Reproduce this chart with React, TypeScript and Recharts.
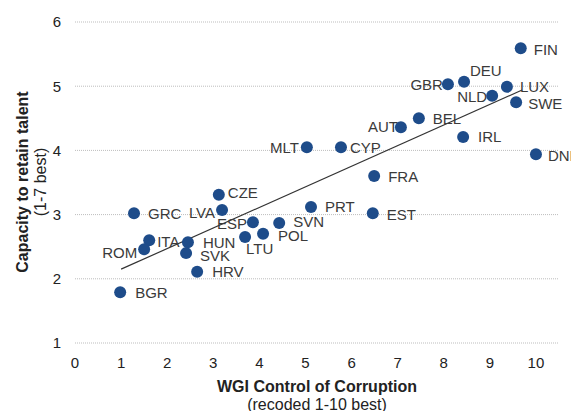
import { CartesianGrid, Scatter, ScatterChart, XAxis, YAxis } from 'recharts';

const countries = [
  'FIN', 'DEU', 'GBR', 'LUX', 'NLD', 'SWE', 'BEL', 'AUT', 'IRL', 'DNK',
  'CYP', 'MLT', 'FRA', 'PRT', 'EST', 'CZE', 'LVA', 'GRC', 'ESP', 'SVN',
  'POL', 'LTU', 'ITA', 'ROM', 'HUN', 'SVK', 'HRV', 'BGR',
];
// WGI control of corruption (x)
const corruption = [
  9.67, 8.44, 8.09, 9.37, 9.05, 9.57, 7.46, 7.07, 8.42, 10.0,
  5.77, 5.03, 6.49, 5.12, 6.46, 3.12, 3.19, 1.28, 3.86, 4.43,
  4.08, 3.69, 1.61, 1.5, 2.45, 2.41, 2.65, 0.98,
];
// capacity to retain talent (y)
const talent = [
  5.59, 5.07, 5.03, 4.99, 4.85, 4.75, 4.5, 4.36, 4.21, 3.94,
  4.05, 4.05, 3.6, 3.12, 3.02, 3.31, 3.07, 3.02, 2.88, 2.87,
  2.7, 2.65, 2.6, 2.46, 2.57, 2.4, 2.11, 1.79,
];
const trendX = [1.0, 9.7];
const trendY = [2.15, 4.94];
const xTicks = [0, 1, 2, 3, 4, 5, 6, 7, 8, 9, 10];
const yTicks = [1, 2, 3, 4, 5, 6];

const points = countries.map((name, i) => ({ name, x: corruption[i], y: talent[i] }));
const trend = trendX.map((x, i) => ({ x, y: trendY[i] }));

// label placement: anchor, dx, dy from the dot centre
const labelPos: Record<string, [string, number, number]> = {
  FIN: ['start', 13, 1],
  DEU: ['start', 6, -11],
  GBR: ['end', -5, 0],
  LUX: ['start', 13, 0],
  NLD: ['end', -5, 1],
  SWE: ['start', 12, 1],
  BEL: ['start', 14, 0],
  AUT: ['end', -3, -1],
  IRL: ['start', 15, 0],
  DNK: ['start', 12, 1],
  CYP: ['start', 9, 0],
  MLT: ['end', -8, 0],
  FRA: ['start', 14, 0],
  PRT: ['start', 14, 0],
  EST: ['start', 14, 1],
  CZE: ['start', 9, -2],
  LVA: ['end', -7, 2],
  GRC: ['start', 14, 0],
  ESP: ['end', -6, 1],
  SVN: ['start', 14, -1],
  POL: ['start', 15, 2],
  LTU: ['start', 1, 11],
  ITA: ['start', 8, 1],
  ROM: ['end', -7, 3],
  HUN: ['start', 15, 0],
  SVK: ['start', 14, 2],
  HRV: ['start', 15, 0],
  BGR: ['start', 15, 0],
};

const font = 'Liberation Sans, Arial, sans-serif';
const dotColor = '#1e4c8a';

const CountryDot = (props: any) => {
  const { cx, cy, payload } = props;
  const [anchor, dx, dy] = labelPos[payload.name] || ['start', 12, 0];
  return (
    <g>
      <circle cx={cx} cy={cy} r={6} fill={dotColor} />
      <text
        x={cx + dx}
        y={cy + dy}
        textAnchor={anchor as any}
        dominantBaseline="central"
        fontSize={15}
        fontFamily={font}
        fill="#3a3a3a"
      >
        {payload.name}
      </text>
    </g>
  );
};

export default function App() {
  return (
    <div style={{ position: 'absolute', left: 0, top: 0, background: '#fff' }}>
      <ScatterChart
        width={571}
        height={411}
        margin={{ top: 22, right: 12, left: 0, bottom: 0 }}
      >
        <CartesianGrid
          vertical={false}
          stroke="#bdbdbd"
          strokeDasharray="1 1"
        />
        <XAxis
          type="number"
          dataKey="x"
          domain={[0, 10.5]}
          ticks={xTicks}
          height={68}
          axisLine={false}
          tickLine={false}
          tickSize={0}
          tickMargin={14}
          tick={{ fontSize: 15, fill: '#222', fontFamily: font }}
        />
        <YAxis
          type="number"
          dataKey="y"
          domain={[1, 6]}
          ticks={yTicks}
          width={75}
          axisLine={false}
          tickLine={false}
          tickSize={0}
          tickMargin={14}
          tick={{ fontSize: 15, fill: '#222', fontFamily: font }}
        />
        <Scatter
          data={trend}
          line={{ stroke: '#333', strokeWidth: 1.2 }}
          shape={() => <g />}
          isAnimationActive={false}
        />
        <Scatter data={points} shape={CountryDot} isAnimationActive={false} />
        <text
          x={317}
          y={386}
          textAnchor="middle"
          dominantBaseline="central"
          fontSize={16}
          fontWeight="bold"
          fontFamily={font}
          fill="#222"
        >
          WGI Control of Corruption
        </text>
        <text
          x={317}
          y={404}
          textAnchor="middle"
          dominantBaseline="central"
          fontSize={16}
          fontFamily={font}
          fill="#222"
        >
          (recoded 1-10 best)
        </text>
        <text
          transform="translate(22,182) rotate(-90)"
          textAnchor="middle"
          dominantBaseline="central"
          fontSize={16}
          fontWeight="bold"
          fontFamily={font}
          fill="#222"
        >
          Capacity to retain talent
        </text>
        <text
          transform="translate(40,182) rotate(-90)"
          textAnchor="middle"
          dominantBaseline="central"
          fontSize={16}
          fontFamily={font}
          fill="#222"
        >
          (1-7 best)
        </text>
      </ScatterChart>
    </div>
  );
}
